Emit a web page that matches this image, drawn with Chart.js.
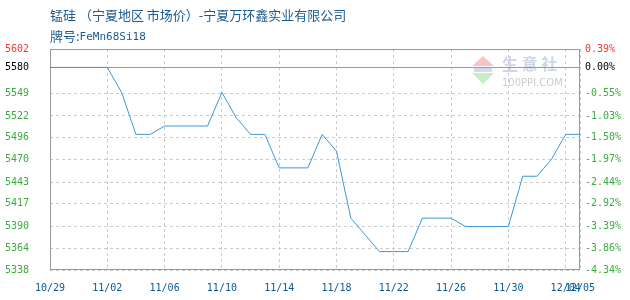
<!DOCTYPE html>
<html>
<head>
<meta charset="utf-8">
<title>锰硅 宁夏地区 市场价</title>
<script src="https://cdn.jsdelivr.net/npm/chart.js@4.4.1/dist/chart.umd.min.js"></script>
<style>
  html, body { margin: 0; padding: 0; background: #fff; }
  #wrap { width: 630px; height: 300px; }
</style>
</head>
<body>
<div id="wrap"><canvas id="priceChart" width="630" height="300"></canvas></div>
<script>
const titleText = '锰硅 （宁夏地区 市场价）-宁夏万环鑫实业有限公司';
const gradeLabel = '牌号:';
const gradeCode = 'FeMn68Si18';

const dates = ['10/29', '10/30', '10/31', '11/01', '11/02', '11/03', '11/04', '11/05', '11/06', '11/07',
               '11/08', '11/09', '11/10', '11/11', '11/12', '11/13', '11/14', '11/15', '11/16', '11/17',
               '11/18', '11/19', '11/20', '11/21', '11/22', '11/23', '11/24', '11/25', '11/26', '11/27',
               '11/28', '11/29', '11/30', '12/01', '12/02', '12/03', '12/04', '12/05'];
const prices = [5580, 5580, 5580, 5580, 5580, 5550, 5500, 5500, 5510, 5510,
                5510, 5510, 5550, 5520, 5500, 5500, 5460, 5460, 5460, 5500,
                5480, 5400, 5380, 5360, 5360, 5360, 5400, 5400, 5400, 5390,
                5390, 5390, 5390, 5450, 5450, 5470, 5500, 5500];
const shownDates = ['10/29', '11/02', '11/06', '11/10', '11/14', '11/18', '11/22', '11/26', '11/30', '12/04', '12/05'];

const basePrice = 5580;
const priceTicks = [5338, 5364, 5390, 5417, 5443, 5470, 5496, 5522, 5549, 5580, 5602];
const percentTicks = ['-4.34%', '-3.86%', '-3.39%', '-2.92%', '-2.44%', '-1.97%', '-1.50%', '-1.03%', '-0.55%', '0.00%', '0.39%'];

const GREEN = '#3cad3c';
const RED = '#ff3333';
const tickFont = { family: '"DejaVu Sans Mono", monospace', size: 10 };

function tickColor(ctx) {
    const v = ctx.tick ? ctx.tick.value : null;
    if (v === priceTicks[priceTicks.length - 1]) return RED;
    if (v === basePrice) return '#000000';
    return GREEN;
}

// title, watermark and the frame around the plot
const decorations = {
    id: 'decorations',
    beforeDraw(chart) {
        const ctx = chart.ctx;
        const a = chart.chartArea;
        ctx.save();
        // faint 100ppi watermark
        const wx = a.right - 108, wy = a.top + 7;
        ctx.fillStyle = '#f6c4c4';
        ctx.beginPath();
        ctx.moveTo(wx + 11, wy); ctx.lineTo(wx + 22, wy + 10); ctx.lineTo(wx, wy + 10); ctx.closePath();
        ctx.fill();
        ctx.fillStyle = '#d4dae6';
        ctx.fillRect(wx + 2, wy + 11, 18, 5);
        ctx.fillStyle = '#c8ecc8';
        ctx.beginPath();
        ctx.moveTo(wx, wy + 17); ctx.lineTo(wx + 22, wy + 17); ctx.lineTo(wx + 11, wy + 28); ctx.closePath();
        ctx.fill();
        ctx.fillStyle = '#cfd6e4';
        ctx.font = 'bold 16px "Noto Sans CJK SC"';
        ctx.textBaseline = 'middle';
        ctx.fillText('生 意 社', wx + 30, wy + 8);
        ctx.fillStyle = '#cccccc';
        ctx.font = '10px "DejaVu Sans"';
        ctx.fillText('100PPI.COM', wx + 30, wy + 27);

        // title lines
        ctx.fillStyle = '#1d5a8c';
        ctx.font = '13px "Noto Sans CJK SC"';
        ctx.fillText(titleText, a.left, 15);
        ctx.fillText(gradeLabel, a.left, 36);
        const w = ctx.measureText(gradeLabel).width;
        ctx.font = '11px "DejaVu Sans Mono"';
        ctx.fillText(gradeCode, a.left + w, 37);
        ctx.restore();
    },
    beforeDatasetsDraw(chart) {
        const ctx = chart.ctx;
        const a = chart.chartArea;
        const yBase = Math.round(chart.scales.y.getPixelForValue(basePrice)) + 0.5;
        ctx.save();
        ctx.strokeStyle = '#999999';
        ctx.lineWidth = 1;
        ctx.setLineDash([]);
        ctx.beginPath();
        ctx.moveTo(a.left, yBase);
        ctx.lineTo(a.right, yBase);
        ctx.stroke();
        ctx.strokeRect(Math.round(a.left) + 0.5, Math.round(a.top) + 0.5,
                       Math.round(a.right - a.left) - 1, Math.round(a.bottom - a.top) - 1);
        ctx.restore();
    }
};

new Chart(document.getElementById('priceChart').getContext('2d'), {
    type: 'line',
    data: {
        labels: dates,
        datasets: [{
            data: prices,
            borderColor: '#3a98d8',
            borderWidth: 1,
            pointRadius: 0,
            tension: 0,
            fill: false,
            yAxisID: 'y'
        }]
    },
    options: {
        responsive: false,
        animation: false,
        layout: { padding: { left: 5, right: 0, top: 49, bottom: 0 } },
        plugins: {
            legend: { display: false },
            tooltip: { enabled: false }
        },
        scales: {
            x: {
                type: 'category',
                offset: false,
                border: { display: false, dash: [3, 3] },
                grid: { color: '#cccccc', drawTicks: false },
                ticks: {
                    autoSkip: false,
                    maxRotation: 0,
                    minRotation: 0,
                    padding: 12,
                    color: '#0a5a92',
                    font: tickFont,
                    callback: function (value) {
                        const d = this.getLabelForValue(value);
                        return shownDates.includes(d) ? d : null;
                    }
                },
                afterFit: scale => { scale.height = 30; }
            },
            y: {
                position: 'left',
                min: priceTicks[0],
                max: priceTicks[priceTicks.length - 1],
                border: { display: false, dash: [3, 3] },
                grid: { color: '#cccccc', drawTicks: false },
                afterBuildTicks: scale => { scale.ticks = priceTicks.map(v => ({ value: v })); },
                ticks: {
                    crossAlign: 'far',
                    padding: 5,
                    font: tickFont,
                    color: tickColor,
                    callback: value => String(value)
                },
                afterFit: scale => { scale.width = 45; }
            },
            y2: {
                position: 'right',
                min: priceTicks[0],
                max: priceTicks[priceTicks.length - 1],
                border: { display: false },
                grid: { drawOnChartArea: false, drawTicks: false },
                afterBuildTicks: scale => { scale.ticks = priceTicks.map(v => ({ value: v })); },
                ticks: {
                    padding: 5,
                    font: tickFont,
                    color: tickColor,
                    callback: (value, index) => percentTicks[index]
                },
                afterFit: scale => { scale.width = 50; }
            }
        }
    },
    plugins: [decorations]
});
</script>
</body>
</html>
